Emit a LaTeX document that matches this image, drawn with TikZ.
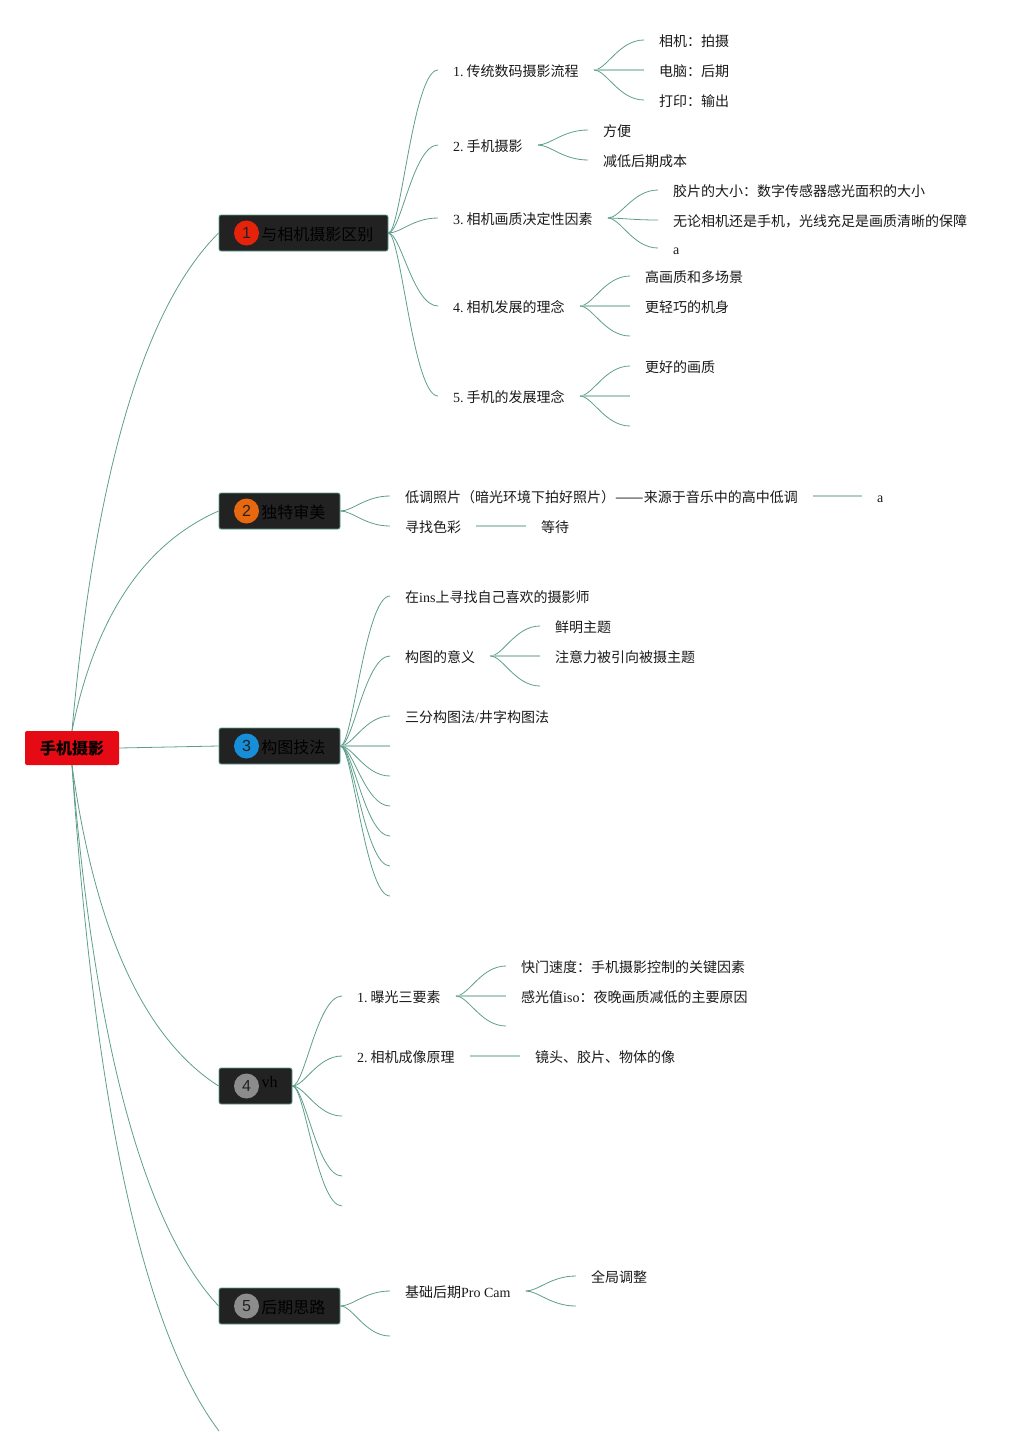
\documentclass[tikz,border=0pt]{standalone}
\usepackage{fontspec}
\setmainfont{Liberation Serif}
\setsansfont{Liberation Sans}
\newfontfamily\cjk{Noto Sans CJK SC}
\newfontfamily\cjkdash[FakeStretch=1.217]{Noto Sans CJK SC}
\newcommand{\zh}[1]{{\cjk #1}}
\newcommand{\num}[1]{#1.\hspace{3pt}}
\usetikzlibrary{positioning,calc}
\definecolor{linegreen}{HTML}{5E9E8C}
\definecolor{topicdark}{HTML}{222222}
\definecolor{rootred}{HTML}{E60A14}
\tikzset{
  fan/.style={draw=linegreen,line width=.8pt,to path={let \p1=(\tikztostart),\p2=(\tikztotarget) in
    .. controls ({\x1+.25*(\x2-\x1)},\y1) and ({\x1+.5*(\x2-\x1)},\y2) .. (\tikztotarget)}},
  bow/.style={draw=linegreen,line width=.8pt,to path={let \p1=(\tikztostart),\p2=(\tikztotarget) in
    .. controls ({\x1+.158*(\x2-\x1)},{\y1+.518*(\y2-\y1)}) and ({\x1+.491*(\x2-\x1)},{\y1+.851*(\y2-\y1)}) .. (\tikztotarget)}},
  flat/.style={draw=linegreen!50,line width=1.5pt},
  leaf/.style={anchor=west,inner xsep=15pt,inner ysep=0pt,text height=16pt,text depth=3.4pt,font=\fontsize{14}{16}\selectfont,text=black!90},
  topic/.style={draw=linegreen,fill=topicdark,rounded corners=2pt,line width=.8pt,minimum height=36pt,inner sep=0pt},
  badge/.style={circle,minimum size=25pt,inner sep=0pt,text=topicdark,font=\sffamily\fontsize{16}{16}\selectfont},
  toplabel/.style={inner sep=0pt,text=black,font=\fontsize{16}{18}\selectfont},
}
\begin{document}
\begin{tikzpicture}[x=1pt,y=-1pt]
\useasboundingbox (0,0) rectangle (1027,1456);
% root and main topics
\node[draw=none,fill=rootred,rounded corners=2pt,minimum width=94pt,minimum height=34pt,inner sep=0pt,font=\fontsize{16}{18}\selectfont\bfseries] (root) at (72,748) {\zh{手机摄影}};
\node[topic,minimum width=169pt] (t1) at (303.5,233) {};
\node[topic,minimum width=121pt] (t2) at (279.5,511) {};
\node[topic,minimum width=121pt] (t3) at (279.5,746) {};
\node[topic,minimum width=73pt] (t4) at (255.5,1086) {};
\node[topic,minimum width=121pt] (t5) at (279.5,1306) {};
\node[badge,fill={rgb,255:red,229;green,34;blue,10}] (b1) at (246.5,233) {1};
\node[badge,fill={rgb,255:red,232;green,104;blue,15}] (b2) at (246.5,511) {2};
\node[badge,fill={rgb,255:red,22;green,142;blue,216}] (b3) at (246.5,746) {3};
\node[badge,fill=black!45] (b4) at (246.5,1086) {4};
\node[badge,fill=black!45] (b5) at (246.5,1306) {5};
\node[toplabel,right=2pt of b1,yshift=-1pt] (l1) {\zh{与相机摄影区别}};
\node[toplabel,right=2pt of b2,yshift=-1pt] (l2) {\zh{独特审美}};
\node[toplabel,right=2pt of b3,yshift=-1pt] (l3) {\zh{构图技法}};
\node[toplabel] (l4) at (269.5,1082) {vh};
\node[toplabel,right=2pt of b5,yshift=-1pt] (l5) {\zh{后期思路}};
\coordinate (t6) at (219,1431);
\draw[bow] (root.north) to (t1.west);
\draw[bow] (root.north) to (t2.west);
\draw[draw=linegreen,line width=.8pt] (root.east) -- (t3.west);
\draw[bow] (root.south) to (t4.west);
\draw[bow] (root.south) to (t5.west);
\draw[bow] (root.south) to (t6);
% topic 1
\node[leaf] (a1) at (438,70) {\num{1}\zh{传统数码摄影流程}};
\node[leaf] (a2) at (438,145) {\num{2}\zh{手机摄影}};
\node[leaf] (a3) at (438,218) {\num{3}\zh{相机画质决定性因素}};
\node[leaf] (a4) at (438,306) {\num{4}\zh{相机发展的理念}};
\node[leaf] (a5) at (438,396) {\num{5}\zh{手机的发展理念}};
\foreach \kid in {a1,a2,a3,a4,a5}
  \draw[fan] (t1.east) to (\kid.west);
\node[leaf] (a11) at (644,40) {\zh{相机：拍摄}};
\node[leaf] (a12) at (644,70) {\zh{电脑：后期}};
\node[leaf] (a13) at (644,100) {\zh{打印：输出}};
\draw[fan] (a1.east) to (a11.west);
\draw[flat] (a1.east) -- (a12.west);
\draw[fan] (a1.east) to (a13.west);
\node[leaf] (a21) at (588,130) {\zh{方便}};
\node[leaf] (a22) at (588,160) {\zh{减低后期成本}};
\foreach \kid in {a21,a22}
  \draw[fan] (a2.east) to (\kid.west);
\node[leaf] (a31) at (658,190) {\zh{胶片的大小：数字传感器感光面积的大小}};
\node[leaf] (a32) at (658,220) {\zh{无论相机还是手机，光线充足是画质清晰的保障}};
\node[leaf] (a33) at (658,248) {a};
\foreach \kid in {a31,a32,a33}
  \draw[fan] (a3.east) to (\kid.west);
\node[leaf] (a41) at (630,276) {\zh{高画质和多场景}};
\node[leaf] (a42) at (630,306) {\zh{更轻巧的机身}};
\coordinate (a43) at (630,336);
\draw[fan] (a4.east) to (a41.west);
\draw[flat] (a4.east) -- (a42.west);
\draw[fan] (a4.east) to (a43);
\node[leaf] (a51) at (630,366) {\zh{更好的画质}};
\coordinate (a52) at (630,396);
\coordinate (a53) at (630,426);
\draw[fan] (a5.east) to (a51.west);
\draw[flat] (a5.east) -- (a52);
\draw[fan] (a5.east) to (a53);
% topic 2
\node[leaf] (c1) at (390,496) {\zh{低调照片（暗光环境下拍好照片）}{\cjkdash ——}\zh{来源于音乐中的高中低调}};
\node[leaf] (c2) at (390,526) {\zh{寻找色彩}};
\draw[fan] (t2.east) to (c1.west);
\draw[fan] (t2.east) to (c2.west);
\node[leaf] (c11) at (862,496) {a};
\node[leaf] (c21) at (526,526) {\zh{等待}};
\draw[flat] (c1.east) -- (c11.west);
\draw[flat] (c2.east) -- (c21.west);
% topic 3
\node[leaf] (d1) at (390,596) {\zh{在}ins\zh{上寻找自己喜欢的摄影师}};
\node[leaf] (d2) at (390,656) {\zh{构图的意义}};
\node[leaf] (d3) at (390,716) {\zh{三分构图法}/\zh{井字构图法}};
\foreach \kid in {d1,d2,d3}
  \draw[fan] (t3.east) to (\kid.west);
\coordinate (d4) at (390,746);
\draw[flat] (t3.east) -- (d4);
\foreach \kid/\ypos in {d5/776,d6/806,d7/836,d8/866,d9/896}{
  \coordinate (\kid) at (390,\ypos);
  \draw[fan] (t3.east) to (\kid);
}
\node[leaf] (d21) at (540,626) {\zh{鲜明主题}};
\node[leaf] (d22) at (540,656) {\zh{注意力被引向被摄主题}};
\coordinate (d23) at (540,686);
\draw[fan] (d2.east) to (d21.west);
\draw[flat] (d2.east) -- (d22.west);
\draw[fan] (d2.east) to (d23);
% topic 4
\node[leaf] (e1) at (342,996) {\num{1}\zh{曝光三要素}};
\node[leaf] (e2) at (342,1056) {\num{2}\zh{相机成像原理}};
\draw[fan] (t4.east) to (e1.west);
\draw[fan] (t4.east) to (e2.west);
\foreach \kid/\ypos in {e3/1116,e4/1176,e5/1206}{
  \coordinate (\kid) at (342,\ypos);
  \draw[fan] (t4.east) to (\kid);
}
\node[leaf] (e11) at (506,966) {\zh{快门速度：手机摄影控制的关键因素}};
\node[leaf] (e12) at (506,996) {\zh{感光值}iso\zh{：夜晚画质减低的主要原因}};
\coordinate (e13) at (506,1026);
\draw[fan] (e1.east) to (e11.west);
\draw[flat] (e1.east) -- (e12.west);
\draw[fan] (e1.east) to (e13);
\node[leaf] (e21) at (520,1056) {\zh{镜头、胶片、物体的像}};
\draw[flat] (e2.east) -- (e21.west);
% topic 5
\node[leaf] (f1) at (390,1291) {\zh{基础后期}Pro Cam};
\coordinate (f2) at (390,1336);
\draw[fan] (t5.east) to (f1.west);
\draw[fan] (t5.east) to (f2);
\node[leaf] (f11) at (576,1276) {\zh{全局调整}};
\coordinate (f12) at (576,1306);
\draw[fan] (f1.east) to (f11.west);
\draw[fan] (f1.east) to (f12);
\end{tikzpicture}
\end{document}
